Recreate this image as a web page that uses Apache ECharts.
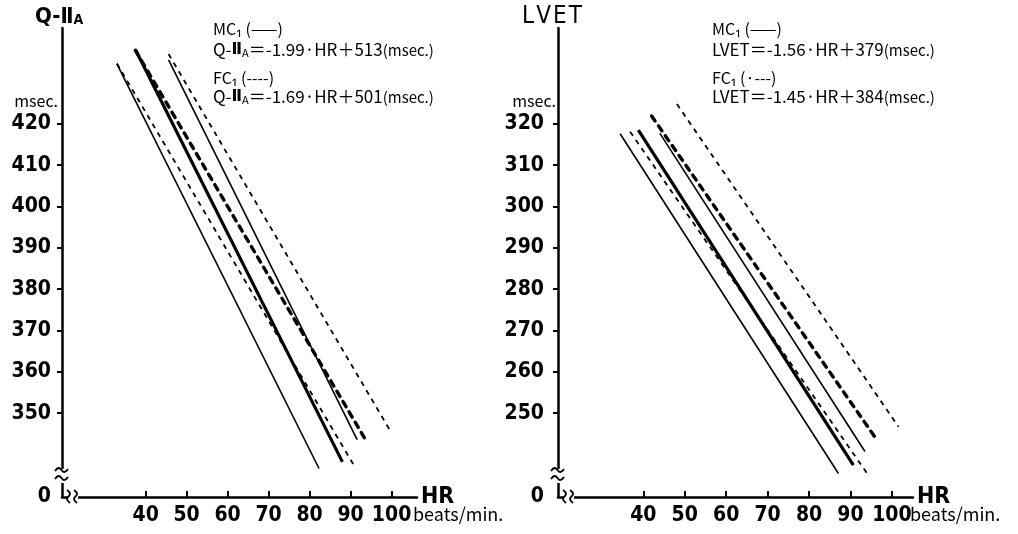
<!DOCTYPE html>
<html><head><meta charset="utf-8">
<script src="https://cdn.jsdelivr.net/npm/echarts@6/dist/echarts.min.js"></script>
<style>html,body{margin:0;padding:0;background:#fff}#c{width:1018px;height:534px}</style>
</head><body><div id="c"></div>
<script>
// ---- tick labels ----
const hrTicks = [40, 50, 60, 70, 80, 90, 100];
const qTicks = [350, 360, 370, 380, 390, 400, 410, 420];
const lvetTicks = [250, 260, 270, 280, 290, 300, 310, 320];

// ---- axis ranges (value units) ----
const qHrRange = [19.6, 106.2];
const qRange = [329.7, 443.2];
const lHrRange = [19.4, 105.1];
const lRange = [229.7, 343.2];

// ---- Q-IIA regression lines: [HR, msec] endpoints ----
const qMcLow  = [[33.0, 434.5], [82.3, 336.6]];
const qMcMean = [[37.5, 438.0], [88.0, 338.2]];
const qMcHigh = [[45.6, 435.5], [91.6, 343.6]];
const qFcLow  = [[33.0, 434.6], [91.2, 336.7]];
const qFcMean = [[37.5, 437.8], [94.1, 342.8]];
const qFcHigh = [[45.6, 436.9], [99.8, 345.5]];

// ---- LVET regression lines ----
const lMcLow  = [[34.4, 317.6], [87.1, 235.4]];
const lMcMean = [[38.8, 318.5], [90.7, 237.4]];
const lMcHigh = [[44.0, 317.7], [93.5, 240.7]];
const lFcLow  = [[36.8, 318.1], [94.3, 235.0]];
const lFcMean = [[42.0, 321.9], [96.4, 243.5]];
const lFcHigh = [[48.1, 324.8], [101.6, 246.7]];

// ---- layout ----
const G1 = {left: 62, top: 28, width: 355, height: 469};
const G2 = {left: 558, top: 28, width: 355, height: 469};
const NUM_FONT = '"DejaVu Sans Condensed", "DejaVu Sans", sans-serif';
const TXT_FONT = '"Noto Sans CJK JP", "Noto Sans", sans-serif';
const ROM_FONT = '"DejaVu Sans", sans-serif';

const styles = {
  thinSolid: {color: '#000', width: 1.6, type: 'solid'},
  thickSolid: {color: '#000', width: 3.2, type: 'solid'},
  thinDash: {color: '#000', width: 1.8, type: [5, 5]},
  thickDash: {color: '#000', width: 3.4, type: [6, 6], cap: 'round'}
};
function ser(data, idx, st) {
  return {type: 'line', xAxisIndex: idx, yAxisIndex: idx, data: data, symbol: 'none',
    silent: true, animation: false, lineStyle: styles[st]};
}

function xAx(idx, range) {
  return {type: 'value', gridIndex: idx, min: range[0], max: range[1],
    axisLine: {show: true, onZero: false, lineStyle: {color: '#000', width: 2.5}},
    axisTick: {show: true, inside: true, length: 6, customValues: hrTicks, lineStyle: {color: '#000', width: 2}},
    axisLabel: {customValues: hrTicks, color: '#000', fontSize: 21, fontWeight: 'bold', fontFamily: NUM_FONT, margin: 8},
    splitLine: {show: false}};
}
function yAx(idx, range, ticks, margin) {
  return {type: 'value', gridIndex: idx, min: range[0], max: range[1],
    axisLine: {show: true, onZero: false, lineStyle: {color: '#000', width: 2.5}},
    axisTick: {show: true, inside: false, length: 5, customValues: ticks, lineStyle: {color: '#000', width: 2}},
    axisLabel: {customValues: [range[0]].concat(ticks), color: '#000', fontSize: 21, fontWeight: 'bold',
      fontFamily: NUM_FONT, margin: margin,
      formatter: function (v) { return v < ticks[0] - 5 ? '0' : String(v); }},
    splitLine: {show: false}};
}

function txt(x, y, text, opts) {
  return {type: 'text', z: 100, silent: true, x: x, y: y,
    style: Object.assign({text: text, fill: '#000', font: '16px ' + TXT_FONT,
      textAlign: 'left', textVerticalAlign: 'middle'}, opts || {})};
}
const richEq = {
  t: {fontSize: 17, fontFamily: TXT_FONT, fill: '#000'},
  r: {fontSize: 16, fontWeight: 'bold', fontFamily: ROM_FONT, fill: '#000'},
  s: {fontSize: 11, fontFamily: TXT_FONT, fill: '#000', padding: [5, 0, 0, 0]},
  m: {fontSize: 15, fontFamily: TXT_FONT, fill: '#000'}
};
const richTitle = {
  b: {fontSize: 22, fontWeight: 'bold', fontFamily: NUM_FONT, fill: '#000'},
  s: {fontSize: 14, fontWeight: 'bold', fontFamily: NUM_FONT, fill: '#000', padding: [7, 0, 0, 0]}
};

function breakMarks(g) {
  const ox = g.left, oy = g.top + g.height;
  return [
    {type: 'rect', z: 90, silent: true, shape: {x: ox - 5, y: oy - 28, width: 10, height: 14}, style: {fill: '#fff'}},
    {type: 'polyline', z: 100, silent: true, shape: {smooth: 0.5, points: [[ox - 7, oy - 26], [ox - 3, oy - 29], [ox + 2, oy - 25], [ox + 6, oy - 28]]}, style: {stroke: '#000', lineWidth: 1.8, fill: null}},
    {type: 'polyline', z: 100, silent: true, shape: {smooth: 0.5, points: [[ox - 7, oy - 18], [ox - 3, oy - 21], [ox + 2, oy - 17], [ox + 6, oy - 20]]}, style: {stroke: '#000', lineWidth: 1.8, fill: null}},
    {type: 'rect', z: 90, silent: true, shape: {x: ox + 6, y: oy - 5, width: 10, height: 10}, style: {fill: '#fff'}},
    {type: 'polyline', z: 100, silent: true, shape: {smooth: 0.5, points: [[ox + 5, oy - 7], [ox + 8, oy - 3], [ox + 5, oy + 2], [ox + 8, oy + 6]]}, style: {stroke: '#000', lineWidth: 1.8, fill: null}},
    {type: 'polyline', z: 100, silent: true, shape: {smooth: 0.5, points: [[ox + 12, oy - 7], [ox + 15, oy - 3], [ox + 12, oy + 2], [ox + 15, oy + 6]]}, style: {stroke: '#000', lineWidth: 1.8, fill: null}}
  ];
}

const graphics = [].concat(
  breakMarks(G1), breakMarks(G2),
  [
    // left titles
    txt(35, 17, '{b|Q-Ⅱ}{s|A}', {rich: richTitle}),
    txt(58, 101, 'msec.', {textAlign: 'right', font: '16px ' + TXT_FONT}),
    txt(213, 29, 'MC₁ (——)'),
    txt(213, 50, '{t|Q-}{r|Ⅱ}{s|A}{t|＝-1.99·HR＋513}{m|(msec.)}', {rich: richEq}),
    txt(213, 78, 'FC₁ (----)'),
    txt(213, 97, '{t|Q-}{r|Ⅱ}{s|A}{t|＝-1.69·HR＋501}{m|(msec.)}', {rich: richEq}),
    txt(G1.left + G1.width + 4, 497, 'HR', {font: 'bold 23px ' + NUM_FONT}),
    txt(G1.left + G1.width - 4, 514, 'beats/min.', {font: '18px ' + TXT_FONT}),
    // right titles
    txt(522, 17, 'L\u200aV\u200aE\u200aT', {font: '24px ' + NUM_FONT}),
    txt(556, 101, 'msec.', {textAlign: 'right', font: '16px ' + TXT_FONT}),
    txt(712, 29, 'MC₁ (——)'),
    txt(712, 50, '{t|LVET＝-1.56·HR＋379}{m|(msec.)}', {rich: richEq}),
    txt(712, 78, 'FC₁ (·---)'),
    txt(712, 97, '{t|LVET＝-1.45·HR＋384}{m|(msec.)}', {rich: richEq}),
    txt(G2.left + G2.width + 4, 497, 'HR', {font: 'bold 23px ' + NUM_FONT}),
    txt(G2.left + G2.width - 3, 514, 'beats/min.', {font: '18px ' + TXT_FONT})
  ]
);

const chart = echarts.init(document.getElementById('c'), null, {renderer: 'canvas'});
chart.setOption({
  animation: false,
  backgroundColor: '#fff',
  grid: [Object.assign({}, G1), Object.assign({}, G2)],
  xAxis: [xAx(0, qHrRange), xAx(1, lHrRange)],
  yAxis: [yAx(0, qRange, qTicks, 11), yAx(1, lRange, lvetTicks, 14)],
  series: [
    ser(qMcLow, 0, 'thinSolid'), ser(qMcMean, 0, 'thickSolid'), ser(qMcHigh, 0, 'thinSolid'),
    ser(qFcLow, 0, 'thinDash'), ser(qFcMean, 0, 'thickDash'), ser(qFcHigh, 0, 'thinDash'),
    ser(lMcLow, 1, 'thinSolid'), ser(lMcMean, 1, 'thickSolid'), ser(lMcHigh, 1, 'thinSolid'),
    ser(lFcLow, 1, 'thinDash'), ser(lFcMean, 1, 'thickDash'), ser(lFcHigh, 1, 'thinDash')
  ],
  graphic: graphics
});
</script></body></html>
